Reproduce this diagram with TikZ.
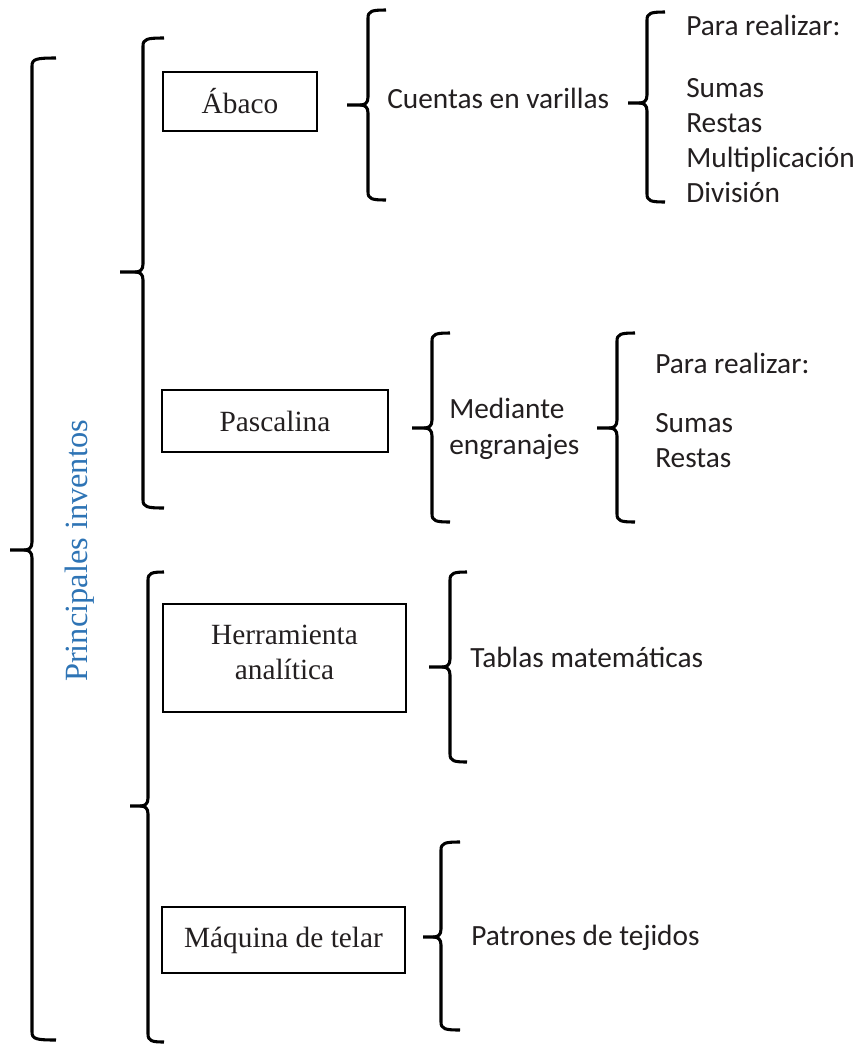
\documentclass[tikz,border=0pt]{standalone}
\usepackage{fontspec}
\setmainfont{Liberation Serif}
\newfontfamily\calfont{Carlito}
\definecolor{txt}{RGB}{35,31,32}
\definecolor{titleblue}{RGB}{46,116,181}
\newcommand\brc[6]{%
  \draw[bracestyle] ({#6},{#2}) .. controls ({#1+4},{#2}) and ({#1},{#2+1}) .. ({#1},{#2+8})
    -- ({#1},{#3-8}) .. controls ({#1},{#3-2}) and ({#1-3},{#3}) .. ({#1-8},{#3}) -- ({#5},{#3});
  \draw[bracestyle] ({#1-8},{#3}) .. controls ({#1-3},{#3}) and ({#1},{#3+2}) .. ({#1},{#3+8})
    -- ({#1},{#4-8}) .. controls ({#1},{#4-1}) and ({#1+4},{#4}) .. ({#6},{#4});}
\begin{document}
\begin{tikzpicture}[x=0.75pt,y=-0.75pt,
  bracestyle/.style={line width=2.3pt,line join=round,black},
  box/.style={draw,line width=1.5pt,text=txt,font=\fontsize{22}{25.5}\selectfont,align=center,inner sep=0pt},
  boxtext/.style={text=txt,font=\fontsize{22}{26}\selectfont,align=center,inner sep=0pt},
  lab/.style={anchor=base west,inner sep=0pt,text=txt,font=\calfont\fontsize{22}{26.5}\selectfont}]
\useasboundingbox[fill=white] (0,0) rectangle (867,1047);
% boxes
\node[box,minimum width=115.5pt,minimum height=44.25pt] (abaco) at (240,101.5) {Ábaco};
\node[box,minimum width=169.5pt,minimum height=46.5pt] (pascalina) at (275,421) {Pascalina};
\node[box,minimum width=182.25pt,minimum height=81pt] (herr) at (284.5,658) {};
\node[boxtext] (herrtext) at ([yshift=4pt]herr.center) {Herramienta\\analítica};
\node[box,minimum width=182.25pt,minimum height=49.5pt] (maquina) at (283.5,940) {Máquina de telar};
% title
\node[rotate=90,text=titleblue,font=\fontsize{24.3}{28}\selectfont,inner sep=0pt] (title) at (80,551) {Principales inventos};
% labels
\node[lab] (cuentas) at (387,108) {Cuentas en varillas};
\node[lab] (para1) at (686,35) {Para realizar:};
\node[lab] (sumas1) at (686,97) {Sumas};
\node[lab] (restas1) at (686,132) {Restas};
\node[lab] (mult1) at (686,167) {Multiplicación};
\node[lab] (div1) at (686,202) {División};
\node[lab] (mediante) at (449,418) {Mediante};
\node[lab] (engr) at (449,454) {engranajes};
\node[lab] (para2) at (655,373) {Para realizar:};
\node[lab] (sumas2) at (655,432) {Sumas};
\node[lab] (restas2) at (655,467) {Restas};
\node[lab] (tablas) at (470,667) {Tablas matemáticas};
\node[lab] (patrones) at (471,945) {Patrones de tejidos};
% braces: x, top, mid, bottom, tip x, hook x
\brc{32}{58}{550}{1040}{10}{56}
\brc{143}{38}{272}{508}{120}{164}
\brc{148}{572}{806}{1042}{130}{164}
\brc{368}{10}{105}{200}{347}{386}
\brc{647}{12}{103}{202}{628}{665}
\brc{432}{333}{428}{522}{412}{450}
\brc{617}{333}{428}{522}{597}{635}
\brc{450}{572}{667}{762}{429}{467}
\brc{441}{842}{937}{1030}{423}{460}
\end{tikzpicture}
\end{document}
